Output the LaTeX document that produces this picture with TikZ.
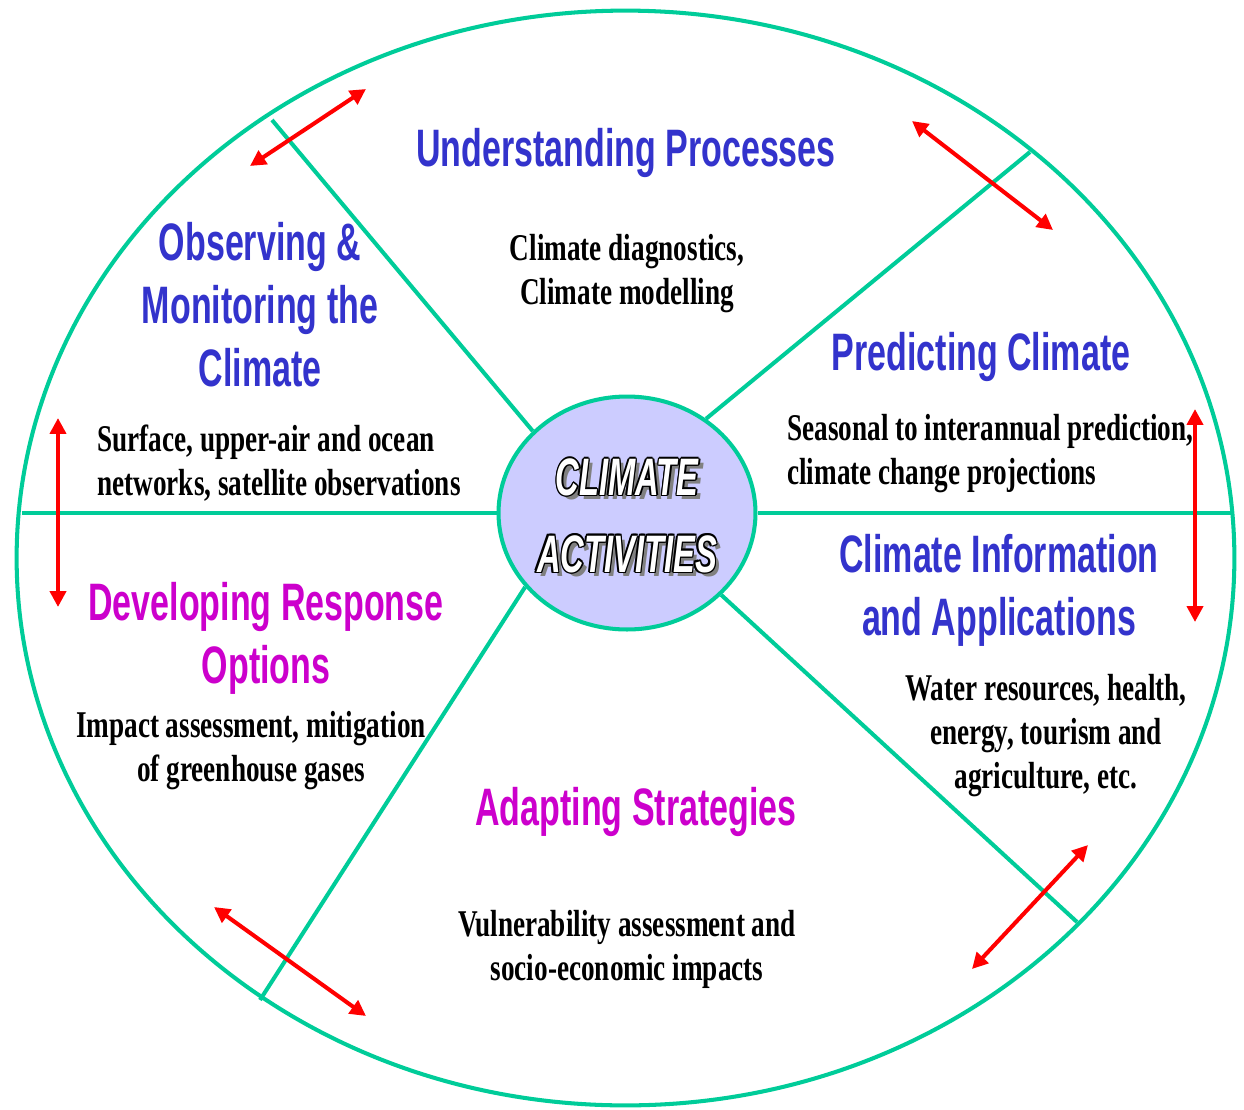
\documentclass[tikz,border=0pt]{standalone}
\usepackage{fontspec}
\newfontfamily\headfont[FakeStretch=0.645]{Liberation Sans}
\newfontfamily\bodyfont[FakeStretch=0.72]{Liberation Serif}
\newfontfamily\hubfont[FakeStretch=0.62]{Liberation Sans}
\usetikzlibrary{shapes.geometric,arrows.meta}

\definecolor{rimgreen}{RGB}{0,204,153}
\definecolor{headblue}{RGB}{51,51,204}
\definecolor{headpink}{RGB}{204,0,204}
\definecolor{hubfill}{RGB}{204,204,255}

\tikzset{
  spoke/.style={rimgreen, line width=2.3pt},
  swing/.style={red, line width=2.3pt,
    {Triangle[length=9pt,width=9pt]}-{Triangle[length=9pt,width=9pt]}},
  heading/.style={font=\headfont\bfseries\fontsize{30}{35.7}\selectfont,
    align=center, anchor=base, inner sep=0pt},
  blurb/.style={font=\bodyfont\bfseries\fontsize{21.5}{25}\selectfont,
    anchor=base, inner sep=0pt},
  hubword/.style={font=\hubfont\bfseries\itshape\fontsize{30}{43.7}\selectfont,
    align=center, anchor=base, inner sep=0pt},
}

\begin{document}
\begin{tikzpicture}[x=0.02cm, y=-0.02cm]
  \useasboundingbox (0,0) rectangle (1244,1109);

  \node [draw=rimgreen, line width=2.3pt, ellipse, inner sep=0pt,
         minimum width=24.36cm, minimum height=21.9cm] (rim) at (625.5,558) {};
  \node [draw=rimgreen, line width=2.3pt, fill=hubfill, ellipse, inner sep=0pt,
         minimum width=5.14cm, minimum height=4.66cm] (hub) at (627,513) {};

  % spoke ends
  \coordinate (endNW) at (272,120);
  \coordinate (endNE) at (1030,152);
  \coordinate (endE) at (1231,513);
  \coordinate (endW) at (22,513);
  \coordinate (endSE) at (1077,922);
  \coordinate (endSW) at (260,1000);

  \draw [spoke] (hub.139) -- (endNW);
  \draw [spoke] (hub.50) -- (endNE);
  \draw [spoke] (hub.0) -- (endE);
  \draw [spoke] (hub.180) -- (endW);
  \draw [spoke] (hub.-41) -- (endSE);
  \draw [spoke] (hub.-144) -- (endSW);

  % arrows round the rim
  \coordinate (a1) at (250,166);  \coordinate (b1) at (366,89);
  \coordinate (a2) at (912,121);  \coordinate (b2) at (1053,230);
  \coordinate (a3) at (58,418);   \coordinate (b3) at (58,607);
  \coordinate (a4) at (1195,409); \coordinate (b4) at (1195,622);
  \coordinate (a5) at (214,907);  \coordinate (b5) at (366,1016);
  \coordinate (a6) at (972,969);  \coordinate (b6) at (1088,845);
  \foreach \i in {1,...,6}
    \draw [swing] (a\i) -- (b\i);

  % headings (base = last line)
  \node [heading, headblue] (understand) at (626,166) {Understanding Processes};
  \node [heading, headblue] (observe) at (260,386) {Observing \&\\Monitoring the\\Climate};
  \node [heading, headblue] (predict) at (981,370) {Predicting Climate};
  \node [heading, headblue] (inform) at (999,635) {Climate Information\\and Applications};
  \node [heading, headpink] (respond) at (266,683) {Developing Response\\Options};
  \node [heading, headpink] (adapt) at (636,825) {Adapting Strategies};

  % descriptions
  \node [blurb, align=center] (diag) at (627,304) {Climate diagnostics,\\Climate modelling};
  \node [blurb, align=left, anchor=base west] (networks) at (97,495) {Surface, upper-air and ocean\\networks, satellite observations};
  \node [blurb, align=left, anchor=base west] (seasonal) at (787,484) {Seasonal to interannual prediction,\\climate change projections};
  \node [blurb, align=center] (sectors) at (1046,788) {Water resources, health,\\energy, tourism and\\agriculture, etc.};
  \node [blurb, align=center] (impact) at (251,781) {Impact assessment, mitigation\\of greenhouse gases};
  \node [blurb, align=center] (vulner) at (627,980) {Vulnerability assessment and\\socio-economic impacts};

  % centre title: shadow, outline, face
  \node [hubword, gray, xshift=2.6pt, yshift=-2.6pt] (hubshade) at (627,572) {CLIMATE\\ACTIVITIES};
  \foreach \dx/\dy [count=\k] in {0.9/0,-0.9/0,0/0.9,0/-0.9,0.65/0.65,-0.65/0.65,0.65/-0.65,-0.65/-0.65}
    \node [hubword, black, xshift=\dx pt, yshift=\dy pt] (hubedge\k) at (627,572) {CLIMATE\\ACTIVITIES};
  \node [hubword, white] (hubface) at (627,572) {CLIMATE\\ACTIVITIES};
\end{tikzpicture}
\end{document}
